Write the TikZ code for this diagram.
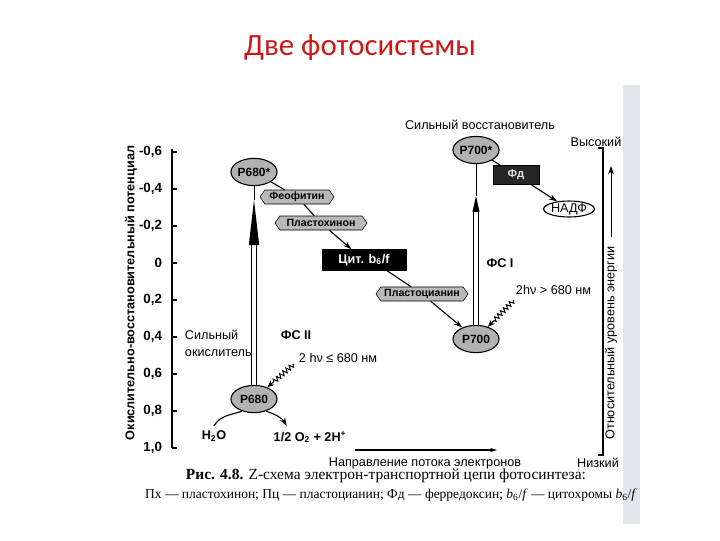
\documentclass[tikz,border=0pt]{standalone}
\usepackage{fontspec}
\setmainfont{Liberation Sans}
\newfontfamily\capfont{Liberation Serif}
\newfontfamily\titlefont{Carlito}
\usetikzlibrary{shapes.geometric,shapes.symbols,arrows.meta,decorations.pathmorphing}
\definecolor{titlered}{RGB}{204,24,24}
\definecolor{stripgray}{RGB}{226,229,236}
\tikzset{
  pigment/.style={ellipse, draw, thick, fill=gray!60, inner sep=0pt,
    minimum width=1.15cm, minimum height=0.68cm,
    font=\bfseries\fontsize{8.5}{9}\selectfont},
  carrier/.style={signal, signal to=west and east, signal pointer angle=110,
    draw, fill=gray!55, inner sep=1pt, minimum height=0.35cm,
    font=\bfseries\fontsize{7.5}{9}\selectfont},
  eflow/.style={-{Stealth[length=6pt,width=4pt]}, line width=0.8pt},
  photon/.style={decorate, decoration={zigzag, segment length=3pt,
    amplitude=1.6pt, post length=5pt, pre length=1pt},
    -{Stealth[length=5pt,width=4pt]}, line width=0.7pt},
  txt/.style={font=\fontsize{9}{12}\selectfont},
  btxt/.style={font=\bfseries\fontsize{9}{11}\selectfont}
}
\begin{document}
\begin{tikzpicture}[x=0.025cm, y=-0.025cm]
  \useasboundingbox (0,0) rectangle (720,540);
  \fill[stripgray] (623,85) rectangle (640,524);
  \node[font=\titlefont\fontsize{22}{26}\selectfont, text=titlered] (title)
    at (360,48) {Две фотосистемы};

  \draw[line width=0.9pt] (172,149) -- (172,448);
  \foreach \y/\t in {152/{-0,6},189/{-0,4},226/{-0,2},263/0,300/{0,2},
      337/{0,4},374/{0,6},411/{0,8},448/{1,0}} {
    \draw[line width=0.9pt] (172,\y) -- (177,\y);
    \node[anchor=east, font=\bfseries\fontsize{9.5}{11}\selectfont] (tk\y)
      at (167,\y) {\t};
  }
  \node[rotate=90, btxt] (potlabel) at (131,293)
    {Окислительно-восстановительный потенциал};

  \node[pigment] (p680s) at (254,172) {P680*};
  \node[carrier, minimum width=1.85cm] (feo) at (297,197) {Феофитин};
  \node[carrier, minimum width=2.3cm] (pq) at (321,223) {Пластохинон};
  \node[draw, fill=black, text=white, minimum width=2.1cm, minimum height=0.5cm,
    font=\bfseries\fontsize{9}{10}\selectfont] (cyt) at (364,260)
    {Цит. b\textsubscript{6}/f};
  \node[carrier, minimum width=2.3cm] (pc) at (422,294) {Пластоцианин};
  \node[pigment] (p700) at (476,339) {P700};
  \node[pigment] (p700s) at (476,150) {P700*};
  \node[draw, fill=black!85, text=gray!25, minimum width=1.15cm,
    minimum height=0.37cm, font=\bfseries\fontsize{8}{9}\selectfont] (fd)
    at (516,175) {Фд};
  \node[ellipse, draw, thick, fill=white, inner sep=0pt, minimum width=1.2cm,
    minimum height=0.38cm, font=\fontsize{9}{10}\selectfont] (nadp)
    at (569,209) {НАДФ};
  \node[pigment] (p680) at (254,399) {P680};

  \draw[line width=0.8pt] (p680s) -- (feo);
  \draw[line width=0.8pt] (feo) -- (pq);
  \draw[eflow] (pq) -- (cyt);
  \draw[line width=0.8pt] (cyt.-25) -- (pc);
  \draw[eflow] (pc) -- (p700);
  \draw[line width=0.8pt] (p700s) -- (fd);
  \draw[eflow] (fd) -- (nadp);

  \coordinate (ps2base) at (254,245);
  \coordinate (ps2tip) at (254,200);
  \draw[double, double distance=3pt, line width=0.7pt] (p680) -- (ps2base);
  \fill (ps2tip) -- ([xshift=-0.13cm]ps2base) -- ([xshift=0.13cm]ps2base) -- cycle;
  \draw[line width=0.7pt] (ps2tip) -- (p680s);
  \coordinate (ps1base) at (476,212);
  \coordinate (ps1tip) at (476,196);
  \draw[double, double distance=3pt, line width=0.7pt] (p700) -- (ps1base);
  \fill (ps1tip) -- ([xshift=-0.09cm]ps1base) -- ([xshift=0.09cm]ps1base) -- cycle;
  \draw[line width=0.7pt] (ps1tip) -- (p700s);

  \coordinate (hv2) at (294,364);
  \draw[photon] (hv2) -- (p680);
  \coordinate (hv1) at (514,300);
  \draw[photon] (hv1) -- (p700);

  \node[btxt] (fs2) at (296,335) {ФС II};
  \node[txt, anchor=west] (hv2txt) at (294,358) {2 hν ≤ 680 нм};
  \node[btxt] (fs1) at (500,263) {ФС I};
  \node[txt, anchor=west] (hv1txt) at (511,290) {2hν > 680 нм};
  \node[txt, align=left, anchor=west] (oxid) at (180,343) {Сильный\\окислитель};
  \node[txt] (reductant) at (480,125) {Сильный восстановитель};

  \node[btxt] (h2o) at (214,436) {H\textsubscript{2}O};
  \node[btxt] (o2) at (310,437) {1/2 O\textsubscript{2} + 2H\textsuperscript{+}};
  \draw[line width=0.8pt] (h2o.north) to[out=60, in=200] (p680.225);
  \draw[eflow] (p680.-45) to[out=-20, in=120] ([xshift=0.45cm]o2.north west);

  \node[txt] (high) at (596,142) {Высокий};
  \node[txt] (low) at (598,463) {Низкий};
  \draw[line width=0.8pt] (598,148) -- (603,148) -- (603,455) -- (598,455);
  \draw[-{Stealth[length=6pt,width=4pt]}, line width=0.7pt] (611,237) -- (611,166);
  \node[rotate=90, txt] (enlabel) at (611,343) {Относительный уровень энергии};

  \node[txt] (flowtxt) at (425,463) {Направление потока электронов};
  \draw[-{Stealth[length=5pt,width=3pt]}, line width=1pt] (355,450) -- (497,450);

  \node[font=\capfont\fontsize{11}{13}\selectfont] (cap1) at (386,476)
    {\textbf{Рис. 4.8.} Z-схема электрон-транспортной цепи фотосинтеза:};
  \node[font=\capfont\fontsize{9.6}{12}\selectfont] (cap2) at (391,495)
    {Пх — пластохинон; Пц — пластоцианин; Фд — ферредоксин;
     \textit{b}\textsubscript{6}/\textit{f} — цитохромы \textit{b}\textsubscript{6}/\textit{f}};
\end{tikzpicture}
\end{document}
